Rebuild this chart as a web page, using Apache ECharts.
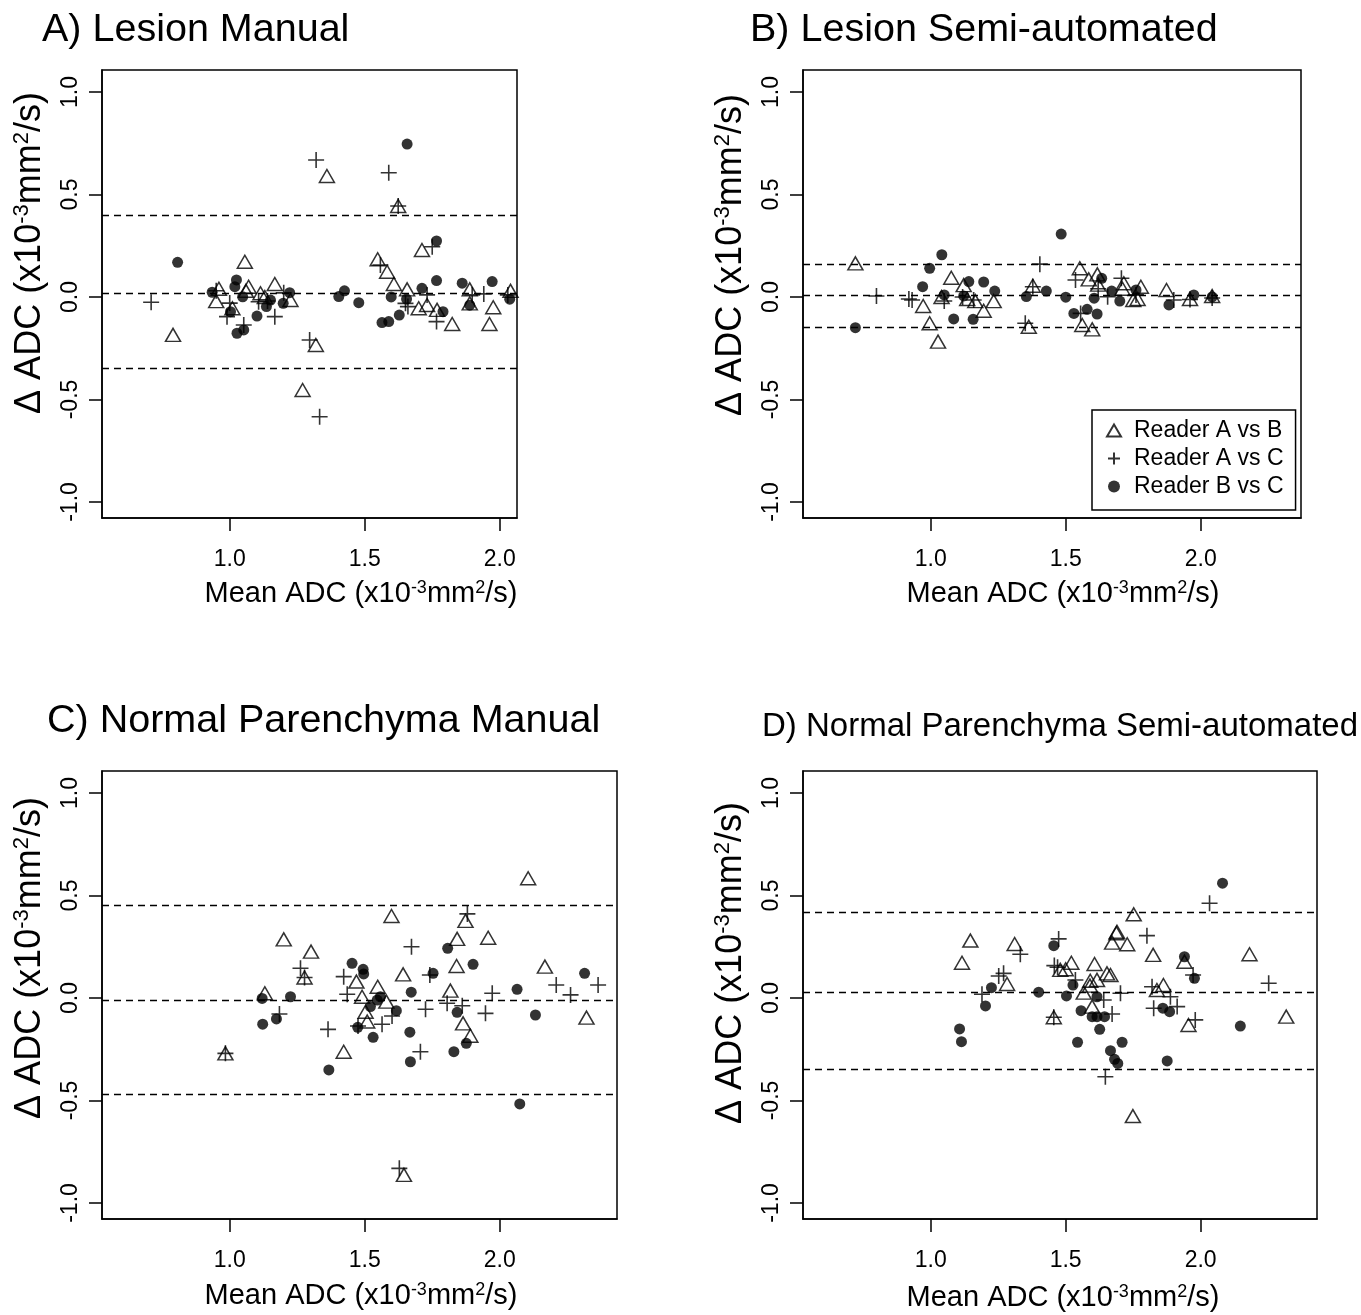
<!DOCTYPE html>
<html>
<head>
<meta charset="utf-8">
<script src="https://cdn.jsdelivr.net/npm/echarts@6.0.0/dist/echarts.min.js"></script>
<style>
  html, body { margin: 0; padding: 0; background: #fff; }
  #chart { width: 1361px; height: 1315px; }
</style>
</head>
<body>
<div id="chart"></div>
<script>
var seriesNames = ['Reader A vs B', 'Reader A vs C', 'Reader B vs C'];
var panelTitles = ['A) Lesion Manual', 'B) Lesion Semi-automated',
  'C) Normal Parenchyma Manual', 'D) Normal Parenchyma Semi-automated'];
var xTicks = [1.0, 1.5, 2.0];
var yTicks = [-1.0, -0.5, 0.0, 0.5, 1.0];

// [mean ADC, delta ADC]
var lesionManualAB = [[0.79,-0.185],[0.96,0.04],[0.95,-0.02],[1.01,-0.055],[1.06,0.03],[1.056,0.172],[1.07,0.05],
  [1.114,0.018],[1.13,0.0],[1.167,0.063],[1.225,-0.015],[1.27,-0.454],[1.319,-0.234],[1.36,0.59],[1.548,0.184],
  [1.583,0.123],[1.608,0.063],[1.624,0.444],[1.657,0.037],[1.70,-0.055],[1.712,0.229],[1.731,-0.039],[1.768,-0.063],
  [1.824,-0.132],[1.889,0.037],[1.889,-0.031],[1.962,-0.132],[1.976,-0.05],[2.04,0.03]];
var lesionManualAC = [[0.709,-0.026],[0.95,0.03],[0.99,-0.096],[1.0,-0.03],[1.052,-0.137],[1.107,-0.023],[1.14,-0.02],
  [1.167,-0.096],[1.2,0.02],[1.296,-0.21],[1.32,0.668],[1.333,-0.584],[1.558,0.156],[1.589,0.606],[1.624,0.444],
  [1.651,-0.031],[1.66,-0.047],[1.731,0.01],[1.75,0.245],[1.766,-0.12],[1.898,0.01],[1.941,0.015],[2.03,0.01]];
var lesionManualBC = [[0.807,0.169],[0.935,0.023],[1.003,-0.072],[1.019,0.05],[1.025,0.083],[1.027,-0.177],[1.048,0.001],
  [1.052,-0.161],[1.101,-0.093],[1.136,-0.047],[1.151,-0.015],[1.198,-0.031],[1.222,0.021],[1.404,0.002],[1.425,0.03],
  [1.478,-0.028],[1.564,-0.125],[1.589,-0.12],[1.598,0.0],[1.628,-0.088],[1.655,-0.01],[1.657,0.746],[1.712,0.042],
  [1.766,0.08],[1.766,0.273],[1.79,-0.072],[1.861,0.067],[1.889,-0.04],[1.972,0.075],[2.037,-0.011]];

var lesionSemiAB = [[0.721,0.164],[0.972,-0.044],[0.996,-0.128],[1.027,-0.218],[1.076,0.094],[1.04,0.0],[1.122,0.058],
  [1.135,-0.01],[1.165,-0.02],[1.196,-0.067],[1.233,-0.02],[1.378,0.055],[1.363,-0.145],[1.552,0.14],[1.585,0.086],
  [1.617,0.11],[1.62,0.06],[1.715,0.067],[1.71,0.04],[1.766,-0.01],[1.75,-0.015],[1.778,0.05],[1.561,-0.137],
  [1.598,-0.158],[1.873,0.034],[1.96,-0.01],[2.042,0.005]];
var lesionSemiAC = [[0.799,0.005],[0.919,-0.01],[0.931,-0.015],[1.05,-0.02],[1.118,0.0],[1.159,-0.015],[1.404,0.16],
  [1.378,0.05],[1.35,-0.128],[1.536,0.083],[1.655,0.001],[1.706,0.091],[1.555,-0.08],[1.9,-0.015],[1.96,-0.012],
  [2.042,-0.005],[1.76,0.01],[1.62,0.04]];
var lesionSemiBC = [[0.721,-0.15],[0.97,0.05],[0.996,0.14],[1.041,0.206],[1.05,0.01],[1.085,-0.107],[1.141,0.075],
  [1.122,0.005],[1.157,-0.109],[1.196,0.073],[1.237,0.029],[1.354,0.002],[1.428,0.029],[1.483,0.307],[1.633,0.091],
  [1.5,-0.001],[1.605,-0.006],[1.67,0.029],[1.7,-0.02],[1.76,0.034],[1.53,-0.08],[1.579,-0.06],[1.616,-0.083],
  [1.882,-0.039],[1.974,0.01],[2.042,0.0]];

var parenManualAB = [[1.599,0.4],[1.2,0.286],[1.301,0.226],[1.277,0.1],[1.469,0.08],[1.548,0.055],[1.49,0.006],
  [1.58,-0.018],[1.503,-0.067],[1.509,-0.115],[1.13,0.023],[1.422,-0.262],[0.984,-0.27],[1.645,-0.863],[1.642,0.115],
  [2.105,0.584],[1.873,0.376],[1.842,0.288],[1.957,0.294],[1.84,0.156],[2.167,0.153],[1.817,0.036],[2.321,-0.096],
  [1.864,-0.124],[1.891,-0.184]];
var parenManualAC = [[1.262,0.145],[1.277,0.1],[1.422,0.104],[1.435,0.018],[1.601,-0.088],[1.564,-0.128],[1.475,-0.137],
  [1.184,-0.078],[1.364,-0.153],[0.984,-0.27],[1.628,-0.831],[1.673,0.25],[1.88,0.41],[1.741,0.112],[1.972,0.023],
  [2.209,0.063],[2.262,0.015],[2.364,0.063],[1.725,-0.055],[1.805,-0.026],[1.861,-0.038],[1.947,-0.075],[1.706,-0.262]];
var parenManualBC = [[1.453,0.169],[1.494,0.14],[1.496,0.117],[1.521,-0.042],[1.546,-0.01],[1.558,0.006],[1.617,-0.062],
  [1.474,-0.143],[1.531,-0.192],[1.12,-0.002],[1.225,0.006],[1.173,-0.102],[1.122,-0.128],[1.367,-0.351],[1.672,0.028],
  [1.667,-0.167],[1.669,-0.311],[1.807,0.242],[1.901,0.164],[2.314,0.12],[1.753,0.12],[2.064,0.042],[2.132,-0.083],
  [1.842,-0.07],[1.876,-0.221],[1.83,-0.262],[2.074,-0.517]];

var parenSemiAB = [[1.147,0.28],[1.116,0.172],[1.311,0.263],[1.283,0.068],[1.48,0.137],[1.521,0.172],[1.456,-0.094],
  [1.607,0.166],[1.653,0.12],[1.591,0.084],[1.616,0.088],[1.59,0.06],[1.567,0.026],[1.598,-0.042],[1.688,0.316],
  [1.672,0.27],[1.752,0.408],[1.69,0.323],[1.728,0.262],[1.824,0.21],[1.94,0.177],[2.181,0.213],[1.666,0.112],
  [1.838,0.039],[1.862,0.063],[1.955,-0.132],[2.317,-0.091],[1.749,-0.576],[1.5,0.14]];
var parenSemiAC = [[1.332,0.213],[1.252,0.107],[1.27,0.12],[1.19,0.018],[1.474,0.288],[1.458,0.158],[1.536,0.088],
  [1.456,-0.094],[1.641,-0.01],[1.672,-0.078],[1.647,-0.384],[2.033,0.462],[1.801,0.304],[1.972,0.112],[2.252,0.072],
  [1.703,0.023],[1.82,0.055],[1.888,0.006],[1.913,-0.042],[1.826,-0.05],[1.98,-0.107],[1.47,0.15]];
var parenSemiBC = [[1.225,0.05],[1.203,-0.039],[1.107,-0.151],[1.114,-0.213],[1.4,0.028],[1.456,0.255],[1.527,0.063],
  [1.503,0.01],[1.557,-0.062],[1.544,-0.216],[1.616,0.006],[1.598,-0.091],[1.616,-0.091],[1.644,-0.091],[1.626,-0.153],
  [1.666,-0.257],[1.681,-0.299],[1.693,-0.319],[2.081,0.56],[1.94,0.201],[1.977,0.096],[2.147,-0.137],[1.709,-0.216],
  [1.86,-0.05],[1.885,-0.067],[1.876,-0.307]];

// mean difference, upper and lower limits of agreement
var lesionManualLimits = [0.021, 0.398, -0.355];
var lesionSemiLimits = [0.006, 0.162, -0.150];
var parenManualLimits = [-0.013, 0.447, -0.475];
var parenSemiLimits = [0.034, 0.416, -0.348];

var FONT = 'Liberation Sans, Arial, Helvetica, sans-serif';

var panels = [
  { data: [lesionManualAB, lesionManualAC, lesionManualBC], lim: lesionManualLimits,
    left: 102, top: 70, width: 415, xMax: 2.064,
    tx: 42, ty: 30, tfs: 39.5, xtx: 361, xty: 594, ytx: 30, yty: 253 },
  { data: [lesionSemiAB, lesionSemiAC, lesionSemiBC], lim: lesionSemiLimits,
    left: 803, top: 70, width: 498, xMax: 2.371,
    tx: 750, ty: 30, tfs: 39.5, xtx: 1063, xty: 594, ytx: 731, yty: 255 },
  { data: [parenManualAB, parenManualAC, parenManualBC], lim: parenManualLimits,
    left: 102, top: 771, width: 515, xMax: 2.434,
    tx: 47, ty: 721, tfs: 39.5, xtx: 361, xty: 1296, ytx: 30, yty: 958 },
  { data: [parenSemiAB, parenSemiAC, parenSemiBC], lim: parenSemiLimits,
    left: 803, top: 771, width: 514, xMax: 2.431,
    tx: 762, ty: 727, tfs: 33, xtx: 1063, xty: 1298, ytx: 731, yty: 963 }
];

var symbols = [
  { symbol: 'triangle', symbolSize: [15, 13],
    itemStyle: { color: 'rgba(255,255,255,0)', borderColor: '#000', borderWidth: 1.5 } },
  { symbol: 'path://M0,5L10,5M5,0L5,10', symbolSize: 16,
    itemStyle: { color: 'rgba(255,255,255,0)', borderColor: '#000', borderWidth: 1.6 } },
  { symbol: 'circle', symbolSize: 11,
    itemStyle: { color: '#000', borderWidth: 0 } }
];

var xTitleRich = {
  n: { fontSize: 29, fontFamily: FONT, color: '#000', lineHeight: 30 },
  s: { fontSize: 18, fontFamily: FONT, color: '#000', verticalAlign: 'top', lineHeight: 18 }
};
var yTitleRich = {
  n: { fontSize: 36, fontFamily: FONT, color: '#000', lineHeight: 38 },
  s: { fontSize: 22, fontFamily: FONT, color: '#000', verticalAlign: 'top', lineHeight: 22 }
};
var unitText = '{n|(x10}{s|-3}{n|mm}{s|2}{n|/s)}';

var grids = [], xAxes = [], yAxes = [], series = [], graphics = [];

panels.forEach(function (p, i) {
  grids.push({ left: p.left, top: p.top, width: p.width, height: 448,
    show: true, borderColor: '#000', borderWidth: 1.5, backgroundColor: 'transparent' });
  xAxes.push({
    gridIndex: i, type: 'value', min: 0.527, max: p.xMax,
    axisLine: { show: true, onZero: false, lineStyle: { color: '#000', width: 1.5 } },
    axisTick: { show: true, length: 13, customValues: xTicks, lineStyle: { color: '#000', width: 1.5 } },
    axisLabel: { customValues: xTicks, margin: 30, fontSize: 23, fontFamily: FONT, color: '#000',
      formatter: function (v) { return v.toFixed(1); } },
    splitLine: { show: false }
  });
  yAxes.push({
    gridIndex: i, type: 'value', min: -1.078, max: 1.107,
    axisLine: { show: true, onZero: false, lineStyle: { color: '#000', width: 1.5 } },
    axisTick: { show: true, length: 13, customValues: yTicks, lineStyle: { color: '#000', width: 1.5 } },
    axisLabel: { customValues: yTicks, rotate: 90, margin: 20, fontSize: 23, fontFamily: FONT, color: '#000',
      formatter: function (v) { return v.toFixed(1); } },
    splitLine: { show: false }
  });

  p.data.forEach(function (d, k) {
    var s = {
      name: seriesNames[k], type: 'scatter', xAxisIndex: i, yAxisIndex: i, data: d,
      symbol: symbols[k].symbol, symbolSize: symbols[k].symbolSize, itemStyle: symbols[k].itemStyle,
      emphasis: { disabled: true }, z: 3
    };
    if (k === 0) {
      s.markLine = {
        silent: true, symbol: 'none', label: { show: false },
        lineStyle: { color: '#000', type: [7, 5], width: 1.3 },
        data: p.lim.map(function (v) { return { yAxis: v }; })
      };
    }
    series.push(s);
  });

  graphics.push({ type: 'text', x: p.tx, y: p.ty,
    style: { text: panelTitles[i], font: p.tfs + 'px ' + FONT, fill: '#000',
      textAlign: 'left', textVerticalAlign: 'middle' } });
  graphics.push({ type: 'text', x: p.xtx, y: p.xty,
    style: { text: '{n|Mean ADC }' + unitText, rich: xTitleRich, fill: '#000',
      textAlign: 'center', textVerticalAlign: 'middle' } });
  graphics.push({ type: 'text', x: p.ytx, y: p.yty, rotation: Math.PI / 2,
    style: { text: '{n|\u0394 ADC }' + unitText, rich: yTitleRich, fill: '#000',
      textAlign: 'center', textVerticalAlign: 'middle' } });
});

var chart = echarts.init(document.getElementById('chart'), null, { renderer: 'canvas' });
chart.setOption({
  animation: false,
  backgroundColor: '#fff',
  grid: grids,
  xAxis: xAxes,
  yAxis: yAxes,
  legend: {
    data: seriesNames,
    orient: 'vertical', left: 1092, top: 410,
    padding: [9, 12, 12, 14], itemGap: 5, itemWidth: 14, itemHeight: 12,
    borderColor: '#000', borderWidth: 1.5, borderRadius: 0, backgroundColor: '#fff',
    selectedMode: false,
    textStyle: { fontSize: 23, fontFamily: FONT, color: '#000', padding: [0, 0, 0, 8] }
  },
  series: series,
  graphic: graphics
});
</script>
</body>
</html>
